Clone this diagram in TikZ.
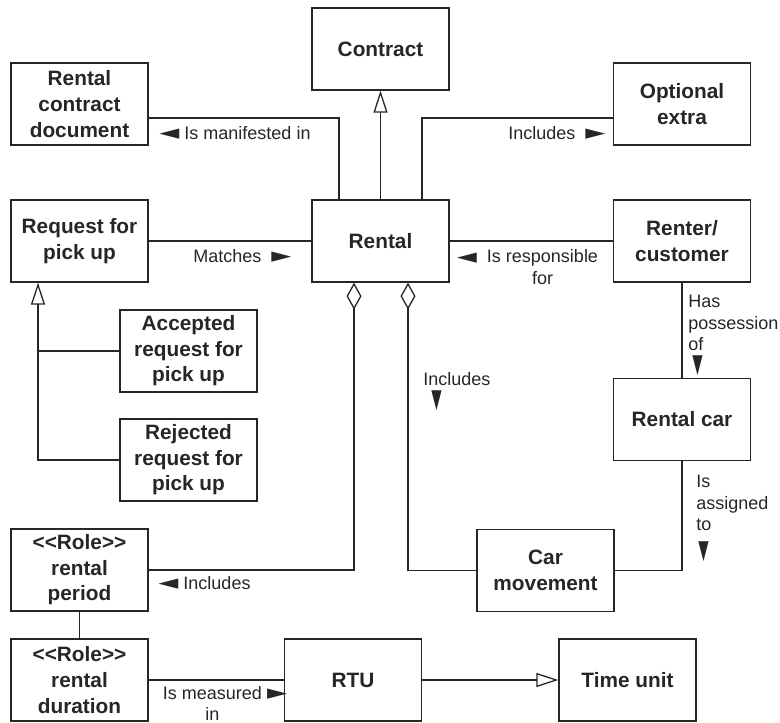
\documentclass[tikz,border=0pt]{standalone}
\usepackage{fontspec}
\usepackage{graphicx}
\setmainfont{Liberation Sans}
\newfontfamily\symf{DejaVu Sans}
\usetikzlibrary{arrows.meta,calc}
\colorlet{ink}{black!85}

% small direction pointers used inside the association labels
\newcommand\ptrL{{\symf\raisebox{-0.3pt}{\scalebox{1.45}[1.15]{◄}}}}
\newcommand\ptrR{{\symf\raisebox{-0.3pt}{\scalebox{1.45}[1.15]{►}}}}
\newcommand\ptrD{{\symf\scalebox{0.75}[1.45]{▼}}}
\newcommand\role{{<}{<}Role{>}{>}}

\begin{document}
\begin{tikzpicture}[x=0.5pt,y=-0.5pt,
  box/.style={draw=ink, line width=0.65pt, minimum width=68.5pt, minimum height=41pt,
    inner sep=0pt, align=center, text=ink,
    font=\fontsize{10.4}{12.8}\selectfont\bfseries},
  lbl/.style={inner sep=0pt, text=ink, font=\fontsize{9}{10.8}\selectfont},
  conn/.style={draw=ink, line width=0.65pt},
  gen/.style={conn, -{Triangle[open, length=11pt, width=7pt, fill=white]}},
  agg/.style={conn, {Diamond[open, length=13.5pt, width=7.5pt, fill=white]}-}]

\useasboundingbox (0,0) rectangle (780,722);

% classes
\node[box] (contract) at (380.5,49)  {Contract};
\node[box] (rcd)      at (79.5,104)  {Rental\\contract\\document};
\node[box] (opt)      at (682,104)   {Optional\\extra};
\node[box] (rpu)      at (79.5,241)  {Request for\\pick up};
\node[box] (rental)   at (380.5,241) {Rental};
\node[box] (renter)   at (682,241)   {Renter/\\customer};
\node[box] (acc)      at (188.5,351) {Accepted\\request for\\pick up};
\node[box] (rej)      at (188.5,460) {Rejected\\request for\\pick up};
\node[box] (car)      at (682,419.5) {Rental car};
\node[box] (move)     at (545.5,570.5) {Car\\movement};
\node[box] (period)   at (79.5,570)  {\role\\rental\\period};
\node[box] (duration) at (79.5,680)  {\role\\rental\\duration};
\node[box] (rtu)      at (353,680)   {RTU};
\node[box] (time)     at (627.5,680) {Time unit};

% generalisations
\draw[gen] (rental.north) -- (contract.south);
\coordinate (gb) at ($(rpu.south)+(-41.5,0)$);
\draw[conn] (acc.west) -- (acc.west -| gb);
\draw[gen] (rej.west) -| (gb);
\draw[gen] (rtu) -- (time);

% associations
\draw[conn] ($(rental.north)+(-41.5,0)$) |- ($(rcd.east)+(0,14)$);
\draw[conn] ($(rental.north)+(41.5,0)$) |- ($(opt.west)+(0,14)$);
\draw[conn] (rpu) -- (rental);
\draw[conn] (rental) -- (renter);
\draw[conn] (renter) -- (car);
\draw[conn] (car.south) |- (move.east);
\draw[conn] (period) -- (duration);
\draw[conn] (duration) -- (rtu);

% aggregations
\draw[agg] ($(rental.south)+(27.5,0)$) |- (move.west);
\draw[agg] ($(rental.south)+(-26.5,0)$) |- (period.east);

% labels
\node[lbl, anchor=base west] (lmanif) at (159,139) {\ptrL\ Is manifested in};
\node[lbl, anchor=base west] (lincopt) at (508,139) {Includes\ \ \ptrR};
\node[lbl, anchor=base west] (lmatch) at (193,262) {Matches\ \ \ptrR};
\node[lbl, align=center] (lresp) at (542.5,267) {\llap{\ptrL\ \ }Is responsible\\for};
\node[lbl, align=left, anchor=north west] (lposs) at (688,295) {Has\\possession\\of\\\hspace{2pt}\ptrD};
\node[lbl, align=left, anchor=north west] (lassign) at (696,475) {Is\\assigned\\to\\[3pt]\hspace{1pt}\ptrD};
\node[lbl, align=left, anchor=north west] (lincmove) at (423,372) {Includes\\\hspace{4pt}\ptrD};
\node[lbl, anchor=base west] (lincper) at (158,589) {\ptrL\ Includes};
\node[lbl, align=center] (lmeas) at (212.5,703.5) {Is measured\rlap{\ \ptrR}\\in};

\end{tikzpicture}
\end{document}
